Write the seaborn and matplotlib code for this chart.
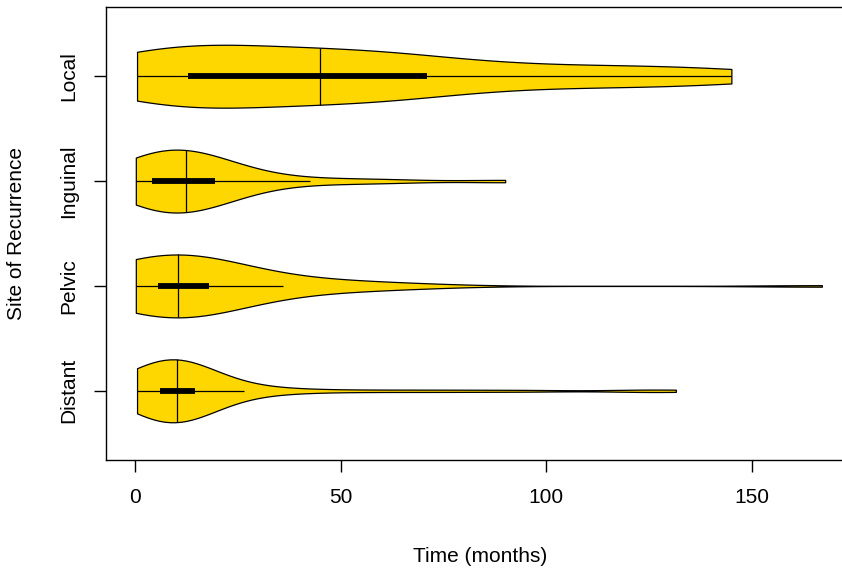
import numpy as np
import pandas as pd
import matplotlib
matplotlib.use("Agg")
import matplotlib.pyplot as plt
import seaborn as sns

SITES = ["Local", "Inguinal", "Pelvic", "Distant"]

LOCAL = [0.5, 3, 5.5, 8, 10.5, 13, 19, 25.5, 32, 38.5, 45, 50, 55.5, 60.5, 66,
         71, 86, 100, 115, 130, 145]
INGUINAL = [0.2, 0.5, 0.9, 1.3, 1.7, 2.1, 2.5, 2.9, 3.3, 3.7, 4.1,
            5, 6, 7, 7.8, 8.6, 9.4, 10.2, 11, 11.8, 12.5,
            13.2, 13.9, 14.6, 15.3, 16, 16.7, 17.4, 18.1, 18.8, 19.5,
            21, 22.5, 24.5, 27, 30, 34, 42.5, 52, 63, 90]
PELVIC = [0.2, 0.6, 1, 1.4, 1.8, 2.2, 2.6, 3, 3.4, 3.8, 4.2, 4.6, 5.1, 5.6,
          6, 6.4, 6.8, 7.2, 7.6, 8, 8.4, 8.8, 9.2, 9.6, 10, 10.2, 10.5,
          11, 11.6, 12.2, 12.8, 13.4, 14, 14.6, 15.2, 15.8, 16.4, 17, 17.5, 18,
          20.5, 23, 26, 29, 33, 36, 40, 46, 50, 55, 61, 68, 167]
DISTANT = [0.5, 1.5, 2.3, 3, 3.5, 3.9, 4.2, 4.5, 4.8, 5, 5.2, 5.4, 5.6, 5.8, 5.9, 6,
           6.3, 6.6, 6.9, 7.2, 7.5, 7.8, 8.1, 8.4, 8.7, 9, 9.3, 9.6, 9.8, 10, 10.2,
           10.5, 10.8, 11.1, 11.4, 11.7, 12, 12.3, 12.6, 12.9, 13.2, 13.5, 13.8, 14.1, 14.4, 14.7,
           16, 17.5, 19, 21, 23, 26.5, 30, 34, 40, 52, 66, 80, 96, 122, 131.5]
SERIES = [LOCAL, INGUINAL, PELVIC, DISTANT]
BANDWIDTH_MONTHS = [20, 10, 16, 9.5]
X_TICKS = [0, 50, 100, 150]

sns.set_theme(style="ticks")
plt.rcParams["font.family"] = ["Liberation Sans", "DejaVu Sans"]

W, H = 842, 570
fig = plt.figure(figsize=(W / 100, H / 100), dpi=100)
left, right, top, bottom = 106, 849, 7, 460
ax = fig.add_axes([left / W, 1 - bottom / H, (right - left) / W, (bottom - top) / H])

HALF = 0.3
for i, (site, vals, h) in enumerate(zip(SITES, SERIES, BANDWIDTH_MONTHS)):
    vals = np.asarray(vals, dtype=float)
    df = pd.DataFrame({"site": site, "time": vals})
    sd = vals.std(ddof=1)
    n_before = len(ax.collections)
    sns.violinplot(data=df, x="time", y="site", order=SITES, orient="h",
                   cut=0, inner=None, bw_method=h / sd, density_norm="width",
                   width=2 * HALF, color="#FFD700", saturation=1,
                   linecolor="black", linewidth=0.9, ax=ax)
    poly = ax.collections[n_before]
    verts = poly.get_paths()[0].vertices
    side = verts[verts[:, 1] < i]
    order = np.argsort(side[:, 0])
    xs, hw = side[order, 0], i - side[order, 1]
    q1, med, q3 = np.percentile(vals, [25, 50, 75])
    iqr = q3 - q1
    lo = vals[vals >= q1 - 1.5 * iqr].min()
    hi = vals[vals <= q3 + 1.5 * iqr].max()
    ax.hlines(i, lo, hi, color="black", lw=0.9, zorder=5)
    ax.hlines(i, q1, q3, color="black", lw=4.2, zorder=6, capstyle="butt")
    mh = np.interp(med, xs, hw)
    ax.vlines(med, i - mh, i + mh, color="black", lw=0.9, zorder=6)

ax.set_xlim(-7.05, 173.6)
ax.set_ylim(3.66, -0.66)
ax.set_xticks(X_TICKS)
ax.set_xticklabels([str(t) for t in X_TICKS])
ax.set_yticks(range(len(SITES)))
ax.set_yticklabels(SITES, rotation=90, va="center")
for s in ax.spines.values():
    s.set_visible(True)
    s.set_color("black")
    s.set_linewidth(1.0)
ax.tick_params(axis="both", colors="black", labelcolor="black", labelsize=15,
               length=8.5, width=1.0, direction="out")
ax.tick_params(axis="x", pad=12)
ax.tick_params(axis="y", pad=11.5)
ax.set_xlabel("Time (months)", fontsize=15, color="black")
ax.set_ylabel("Site of Recurrence", fontsize=15, color="black")
ax.xaxis.set_label_coords((480 - left) / (right - left), -(556 - bottom) / (bottom - top))
ax.xaxis.label.set_va("center")
ax.yaxis.set_label_coords(-(left - 17) / (right - left), 0.5)
ax.yaxis.label.set_va("center")

fig.savefig("out.png", dpi=100)
